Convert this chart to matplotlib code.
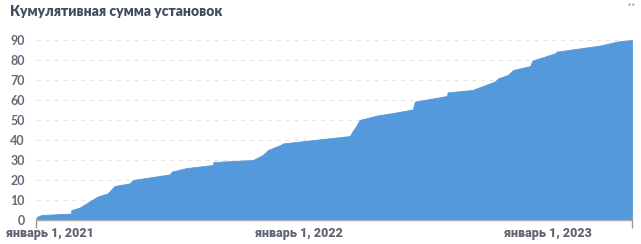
import pandas as pd
import matplotlib.pyplot as plt

# cumulative installs
dates = ["2020-12-12", "2020-12-13", "2020-12-20", "2021-02-01", "2021-02-02", "2021-02-14",
         "2021-03-12", "2021-03-27", "2021-04-06", "2021-04-28", "2021-05-03", "2021-06-26",
         "2021-06-29", "2021-07-21", "2021-08-28", "2021-08-29", "2021-10-26", "2021-11-09",
         "2021-11-17", "2021-12-07", "2021-12-09", "2022-03-17", "2022-03-20", "2022-03-27",
         "2022-03-31", "2022-04-25", "2022-05-19", "2022-06-17", "2022-06-20", "2022-07-12",
         "2022-08-06", "2022-08-07", "2022-09-12", "2022-10-15", "2022-10-20", "2022-11-03",
         "2022-11-11", "2022-12-06", "2022-12-09", "2023-01-11", "2023-01-14", "2023-03-18",
         "2023-04-12", "2023-05-04"]
values = [0.0, 1.5, 2.5, 3.2, 5.0, 6.2,
          11.7, 13.3, 17.0, 18.3, 20.0, 22.8,
          24.2, 26.0, 27.5, 29.0, 30.0, 32.5,
          35.0, 37.8, 38.3, 42.0, 44.0, 47.5,
          50.0, 52.2, 53.5, 55.3, 59.2, 60.5,
          62.0, 63.8, 65.0, 69.2, 70.8, 72.5,
          75.0, 77.0, 79.7, 83.3, 84.2, 87.2,
          89.2, 90.0]
yticks = [0, 10, 20, 30, 40, 50, 60, 70, 80, 90]
xticks = ["2021-01-01", "2022-01-01", "2023-01-01"]
xlabels = ["январь 1, 2021", "январь 1, 2022", "январь 1, 2023"]

x = pd.to_datetime(dates)
x0, x1 = x[0], x[-1]

fig = plt.figure(figsize=(6.41, 2.44), dpi=100)
ax = fig.add_axes([36 / 641, 24 / 244, 596 / 641, 184 / 244])

ax.fill_between(x, 0, values, color="#5599dd", linewidth=0.6, edgecolor="#5599dd")

ax.set_xlim(x0, x1)
ax.set_ylim(0, 92)

for v in yticks[1:]:
    ax.axhline(v, color="#e6e6e6", linewidth=0.8, dashes=(4, 4), zorder=0)

ax.set_yticks(yticks)
ax.set_yticklabels([str(v) for v in yticks], fontsize=9, fontweight="bold",
                   color="#666a78", family="Lato")
ax.tick_params(axis="y", length=0, pad=8)

ax.set_xticks(pd.to_datetime(xticks))
ax.set_xticklabels(xlabels, fontsize=9, fontweight="heavy", color="#5f6473",
                   family="Roboto")
ax.tick_params(axis="x", length=0, pad=5)
# small end marks on the axis
ax.set_xticks([x0, x1], minor=True)
ax.tick_params(axis="x", which="minor", length=6, width=1, color="#999999")

for s in ["top", "right", "left"]:
    ax.spines[s].set_visible(False)
ax.spines["bottom"].set_color("#aaaaaa")
ax.spines["bottom"].set_linewidth(1)

fig.text(10 / 641, 1 - 11 / 244, "Кумулятивная сумма установок", fontsize=10,
         fontweight="heavy", color="#434b60", family="Lato", va="center", ha="left")
fig.text(632 / 641, 1 - 5 / 244, "••", fontsize=6, color="#b0b4c0", va="center", ha="center")

fig.savefig("out.png", dpi=100)
